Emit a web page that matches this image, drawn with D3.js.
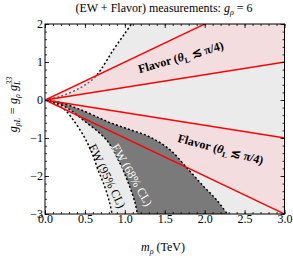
<!DOCTYPE html>
<html lang="en">
<head>
<meta charset="UTF-8">
<title>EW + Flavor</title>
<script src="https://d3js.org/d3.v7.min.js"></script>
<style>
    body { margin: 0; background: white; }
    text { font-family: "Liberation Serif", "DejaVu Serif", serif; }
    .tick line { stroke: black; stroke-width: 0.8; }
    .tick text { font-size: 12px; fill: black; }
</style>
</head>
<body>
<script>
// axis ticks
var xTicks = [0, 0.5, 1.0, 1.5, 2.0, 2.5, 3.0],
    yTicks = [-3, -2, -1, 0, 1, 2];

// flavor band edges: slopes of lines g = s * m
var flavorUpper = [1 / 3, 1],
    flavorLower = [-1 / 3, -1];

// EW 95% CL boundary curves (m, g)
var ew95Upper = [[0, 0], [0.2, 0.1], [0.44, 0.32], [0.6, 0.55], [0.7, 0.8], [0.85, 1.3], [1.0, 1.75], [1.1, 2.05]];
var ew95Lower = [[0, 0], [0.12, -0.09], [0.25, -0.26], [0.355, -0.53], [0.48, -0.93], [0.58, -1.35], [0.665, -1.84], [0.75, -2.29], [0.81, -2.71], [0.845, -3.05]];

// EW 68% CL boundary curves
var ew68Upper = [[0, 0], [0.19, -0.07], [0.44, -0.25], [0.69, -0.48], [0.82, -0.6], [1.05, -0.77], [1.32, -0.98], [1.57, -1.32], [1.8, -1.84], [1.99, -2.28], [2.15, -2.63], [2.3, -3.05]];
var ew68Lower = [[0, 0], [0.15, -0.08], [0.3, -0.24], [0.48, -0.53], [0.77, -1.05], [0.94, -1.67], [1.045, -2.19], [1.13, -2.72], [1.16, -3.05]];

var width = 293, height = 258,
    margin = {top: 24, right: 8.5, bottom: 44, left: 45};

var x = d3.scaleLinear().domain([0, 3]).range([margin.left, width - margin.right]);
var y = d3.scaleLinear().domain([-3, 2]).range([height - margin.bottom, margin.top]);

var svg = d3.select("body").append("svg")
    .attr("width", width)
    .attr("height", height);

svg.append("clipPath").attr("id", "plot")
    .append("rect")
    .attr("x", x(0)).attr("y", y(2))
    .attr("width", x(3) - x(0)).attr("height", y(-3) - y(2));

var g = svg.append("g").attr("clip-path", "url(#plot)");

var line = d3.line()
    .x(function (d) { return x(d[0]); })
    .y(function (d) { return y(d[1]); })
    .curve(d3.curveCatmullRom);

var straight = d3.line()
    .x(function (d) { return x(d[0]); })
    .y(function (d) { return y(d[1]); });

// joins two curves into one closed outline
function region(a, b) {
    return line(a) + line(b.slice().reverse()).replace("M", "L") + "Z";
}

// light gray: EW 95% region
var corner = [[ew95Upper[ew95Upper.length - 1][0], 2.05], [3.1, 2.05], [3.1, -3.05], [ew95Lower[ew95Lower.length - 1][0], -3.05]];
g.append("path")
    .attr("d", line(ew95Upper) + straight(corner).replace("M", "L") +
        line(ew95Lower.slice().reverse()).replace("M", "L") + "Z")
    .attr("fill", "#ebebeb");

g.append("path")
    .attr("d", line(ew95Upper))
    .attr("fill", "none")
    .attr("stroke", "black")
    .attr("stroke-width", 1.5)
    .attr("stroke-dasharray", "2,2.2");

// flavor bands
function band(s) {
    return [[0, 0], [3.2, 3.2 * s[0]], [3.2, 3.2 * s[1]]];
}
[flavorUpper, flavorLower].forEach(function (s) {
    g.append("path")
        .attr("d", straight(band(s)) + "Z")
        .attr("fill", "#ffcdd1")
        .attr("fill-opacity", 0.45);
});

// dark gray: EW 68% region
g.append("path")
    .attr("d", region(ew68Upper, ew68Lower))
    .attr("fill", "#7a7a7a");

[ew68Upper, ew68Lower, ew95Lower].forEach(function (c) {
    g.append("path")
        .attr("d", line(c))
        .attr("fill", "none")
        .attr("stroke", "black")
        .attr("stroke-width", 1.5)
        .attr("stroke-dasharray", "2,2.2");
});

// red flavor lines
flavorUpper.concat(flavorLower).forEach(function (s) {
    g.append("path")
        .attr("d", straight([[0, 0], [3.2, 3.2 * s]]))
        .attr("fill", "none")
        .attr("stroke", "#ff0000")
        .attr("stroke-width", 1.4);
});

// axes, ticks inside on all sides
var xMinor = d3.range(0, 3.01, 0.1), yMinor = d3.range(-3, 2.01, 0.2);
function axes(gen, scale, ticks, minor, pos, labels, fmt) {
    var a = svg.append("g").attr("transform", pos)
        .call(gen(scale).tickValues(minor).tickSize(-2).tickFormat(""));
    a.select(".domain").remove();
    var b = svg.append("g").attr("transform", pos)
        .call(gen(scale).tickValues(ticks).tickSize(-4)
            .tickPadding(labels ? (gen === d3.axisBottom ? 0.5 : 2) : 0)
            .tickFormat(labels ? fmt : ""));
    b.select(".domain").remove();
}
axes(d3.axisBottom, x, xTicks, xMinor, "translate(0," + y(-3) + ")", true, d3.format(".1f"));
axes(d3.axisTop, x, xTicks, xMinor, "translate(0," + y(2) + ")", false);
axes(d3.axisLeft, y, yTicks, yMinor, "translate(" + x(0) + ",0)", true, d3.format("d"));
axes(d3.axisRight, y, yTicks, yMinor, "translate(" + x(3) + ",0)", false);

svg.append("rect")
    .attr("x", x(0)).attr("y", y(2))
    .attr("width", x(3) - x(0)).attr("height", y(-3) - y(2))
    .attr("fill", "none").attr("stroke", "black").attr("stroke-width", 1);

// labels in the plot
function flavorLabel(px, py, angle) {
    var t = svg.append("text")
        .attr("transform", "translate(" + x(px) + "," + y(py) + ") rotate(" + angle + ")")
        .attr("text-anchor", "middle")
        .attr("dy", "0.35em")
        .attr("font-size", 12)
        .attr("font-weight", "bold");
    t.append("tspan").text("Flavor (");
    t.append("tspan").attr("font-style", "italic").text("θ");
    t.append("tspan").attr("font-size", 8).attr("baseline-shift", "-3").text("L");
    t.append("tspan").text(" ≲ π/4)");
}
flavorLabel(1.7, 1.13, -16);
flavorLabel(2.2, -1.29, 15);

svg.append("text")
    .attr("transform", "translate(" + x(1.09) + "," + y(-1.97) + ") rotate(60)")
    .attr("text-anchor", "middle").attr("dy", "0.35em")
    .attr("font-size", 12).attr("fill", "white")
    .text("EW (68% CL)");

svg.append("text")
    .attr("transform", "translate(" + x(0.78) + "," + y(-2.0) + ") rotate(64)")
    .attr("text-anchor", "middle").attr("dy", "0.35em")
    .attr("font-size", 12).attr("fill", "black")
    .text("EW (95% CL)");

// title
var title = svg.append("text")
    .attr("x", 164).attr("y", 11.5)
    .attr("text-anchor", "middle")
    .attr("font-size", 12);
title.append("tspan").text("(EW + Flavor) measurements:  ");
title.append("tspan").attr("font-style", "italic").text("g");
title.append("tspan").attr("font-style", "italic").attr("font-size", 8).attr("baseline-shift", "-3").text("ρ");
title.append("tspan").text(" = 6");

// x label
var xl = svg.append("text")
    .attr("x", 163).attr("y", 251)
    .attr("text-anchor", "middle")
    .attr("font-size", 12);
xl.append("tspan").attr("font-style", "italic").text("m");
xl.append("tspan").attr("font-style", "italic").attr("font-size", 8).attr("baseline-shift", "-3").text("ρ");
xl.append("tspan").text(" (TeV)");

// y label
var yl = svg.append("text")
    .attr("transform", "translate(17,104.5) rotate(-90)")
    .attr("text-anchor", "middle")
    .attr("font-size", 12)
    .attr("font-style", "italic");
yl.append("tspan").text("g");
yl.append("tspan").attr("font-size", 8).attr("baseline-shift", "-3").text("ρL");
yl.append("tspan").text(" = g");
yl.append("tspan").attr("font-size", 8).attr("baseline-shift", "-3").text("ρ");
yl.append("tspan").text(" g");
yl.append("tspan").attr("font-size", 8).attr("baseline-shift", "-3").text("L");
yl.append("tspan").attr("font-size", 8).attr("dx", -4).attr("baseline-shift", "5").text("33");
</script>
</body>
</html>
